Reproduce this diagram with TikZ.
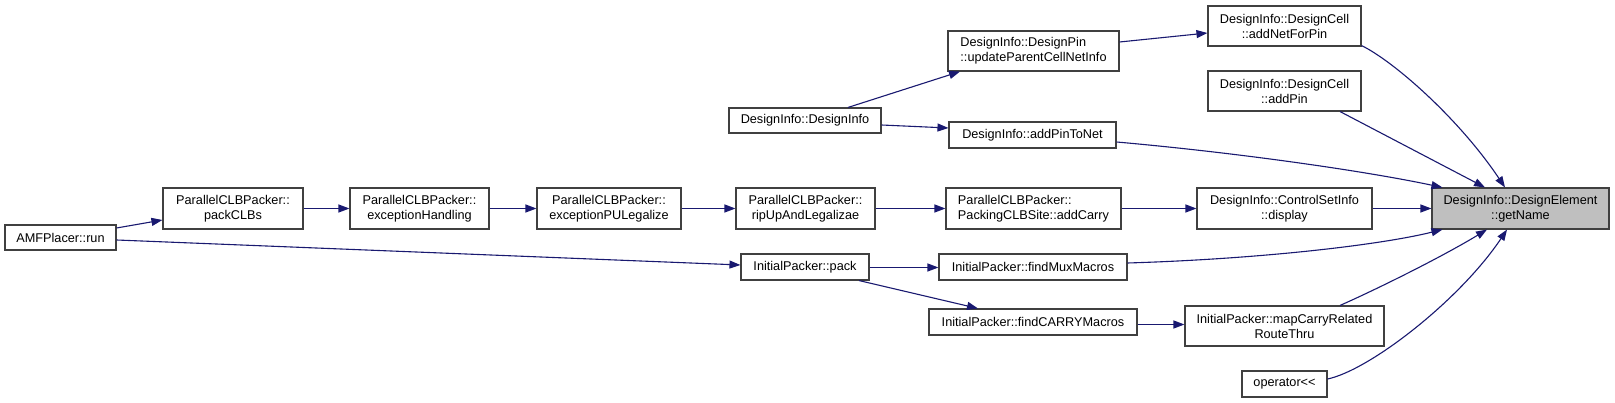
\documentclass[tikz,border=0pt]{standalone}
\usepackage{fontspec}
\setmainfont{Liberation Sans}
\usetikzlibrary{arrows.meta,calc}
\definecolor{edgeblue}{HTML}{191970}
\definecolor{boxline}{HTML}{404040}
\definecolor{hilite}{HTML}{BFBFBF}
\begin{document}
\begin{tikzpicture}[x=1pt,y=-1pt,
  box/.style={draw=boxline, line width=1.1pt, fill=white, inner sep=0pt, align=center,
              font=\fontsize{12.7}{15}\selectfont},
  sz/.style 2 args={minimum width=#1pt, minimum height=#2pt},
  edge/.style={draw=edgeblue, line width=1.1pt, -{Triangle[length=11pt,width=8pt]}}]
\useasboundingbox[fill=white] (0,0) rectangle (1615,403);

% nodes
\node[box,sz={111}{25}] (run) at (60.5,237.5) {AMFPlacer::run};
\node[box,sz={140}{41}] (packCLBs) at (233,208.5) {ParallelCLBPacker::\\packCLBs};
\node[box,sz={139}{41}] (excH) at (419.5,208.5) {ParallelCLBPacker::\\exceptionHandling};
\node[box,sz={144}{41}] (excPU) at (609,208.5) {ParallelCLBPacker::\\exceptionPULegalize};
\node[box,sz={139}{41}] (ripUp) at (805.5,208.5) {ParallelCLBPacker::\\ripUpAndLegalizae};
\node[box,sz={175}{41},align=left] (addCarry) at (1033.5,208.5) {ParallelCLBPacker::\\PackingCLBSite::addCarry};
\node[box,sz={175}{41}] (display) at (1284.5,208.5) {DesignInfo::ControlSetInfo\\::display};
\node[box,sz={177}{41},fill=hilite] (getName) at (1520.5,208.5) {DesignInfo::DesignElement\\::getName};
\node[box,sz={152}{25}] (DI) at (805,120.5) {DesignInfo::DesignInfo};
\node[box,sz={171}{40},align=left] (upd) at (1033.5,51) {DesignInfo::DesignPin\\::updateParentCellNetInfo};
\node[box,sz={167}{26}] (addPinToNet) at (1032.5,135) {DesignInfo::addPinToNet};
\node[box,sz={153}{40}] (addNetForPin) at (1284.5,26) {DesignInfo::DesignCell\\::addNetForPin};
\node[box,sz={153}{40}] (addPin) at (1284.5,91) {DesignInfo::DesignCell\\::addPin};
\node[box,sz={128}{26}] (pack) at (805,267) {InitialPacker::pack};
\node[box,sz={188}{26}] (findMux) at (1033,267) {InitialPacker::findMuxMacros};
\node[box,sz={208}{26}] (findCARRY) at (1033,322) {InitialPacker::findCARRYMacros};
\node[box,sz={199}{40}] (mapCarry) at (1284.5,326) {InitialPacker::mapCarryRelated\\RouteThru};
\node[box,sz={85}{26}] (oper) at (1284.5,384) {operator{<}{<}};

% edges
\draw[edge] ($(run.east)+(0,-9.5)$) -- ($(packCLBs.west)+(0,11.5)$);
\draw[edge] ($(run.east)+(0,2.5)$) -- ($(pack.west)+(0,-2)$);
\draw[edge] (packCLBs.east) -- (excH.west);
\draw[edge] (excH.east) -- (excPU.west);
\draw[edge] (excPU.east) -- (ripUp.west);
\draw[edge] (ripUp.east) -- (addCarry.west);
\draw[edge] (addCarry.east) -- (display.west);
\draw[edge] (display.east) -- (getName.west);
\draw[edge] ($(DI.north)+(43,0)$) -- ($(upd.south)+(-73.5,0)$);
\draw[edge] ($(DI.east)+(0,4.5)$) -- ($(addPinToNet.west)+(0,-7)$);
\draw[edge] ($(upd.east)+(0,-9)$) -- ($(addNetForPin.west)+(0,7)$);
\draw[edge] ($(addNetForPin.south east)+(0,-1)$) .. controls (1395,62) and (1460,120) .. ($(getName.north)+(-15.5,0)$);
\draw[edge] ($(addPin.south)+(55.5,0)$) -- ($(getName.north)+(-35.5,0)$);
\draw[edge] ($(addPinToNet.east)+(0,7)$) .. controls (1230,152) and (1360,170) .. ($(getName.north west)+(11,0)$);
\draw[edge] ($(findMux.east)+(0,-4)$) .. controls (1260,259) and (1380,245) .. ($(getName.south west)+(11,0)$);
\draw[edge] ($(mapCarry.north)+(55.5,0)$) .. controls (1375,290) and (1440,258) .. ($(getName.south)+(-33.5,0)$);
\draw[edge] ($(oper.east)+(0,-5)$) .. controls (1370,370) and (1460,300) .. ($(getName.south)+(-13.5,0)$);
\draw[edge] ($(pack.east)+(0,0.5)$) -- ($(findMux.west)+(0,0.5)$);
\draw[edge] ($(pack.south)+(54,0)$) -- ($(findCARRY.north)+(-55,0)$);
\draw[edge] ($(findCARRY.east)+(0,2.5)$) -- ($(mapCarry.west)+(0,-1.5)$);
\end{tikzpicture}
\end{document}
